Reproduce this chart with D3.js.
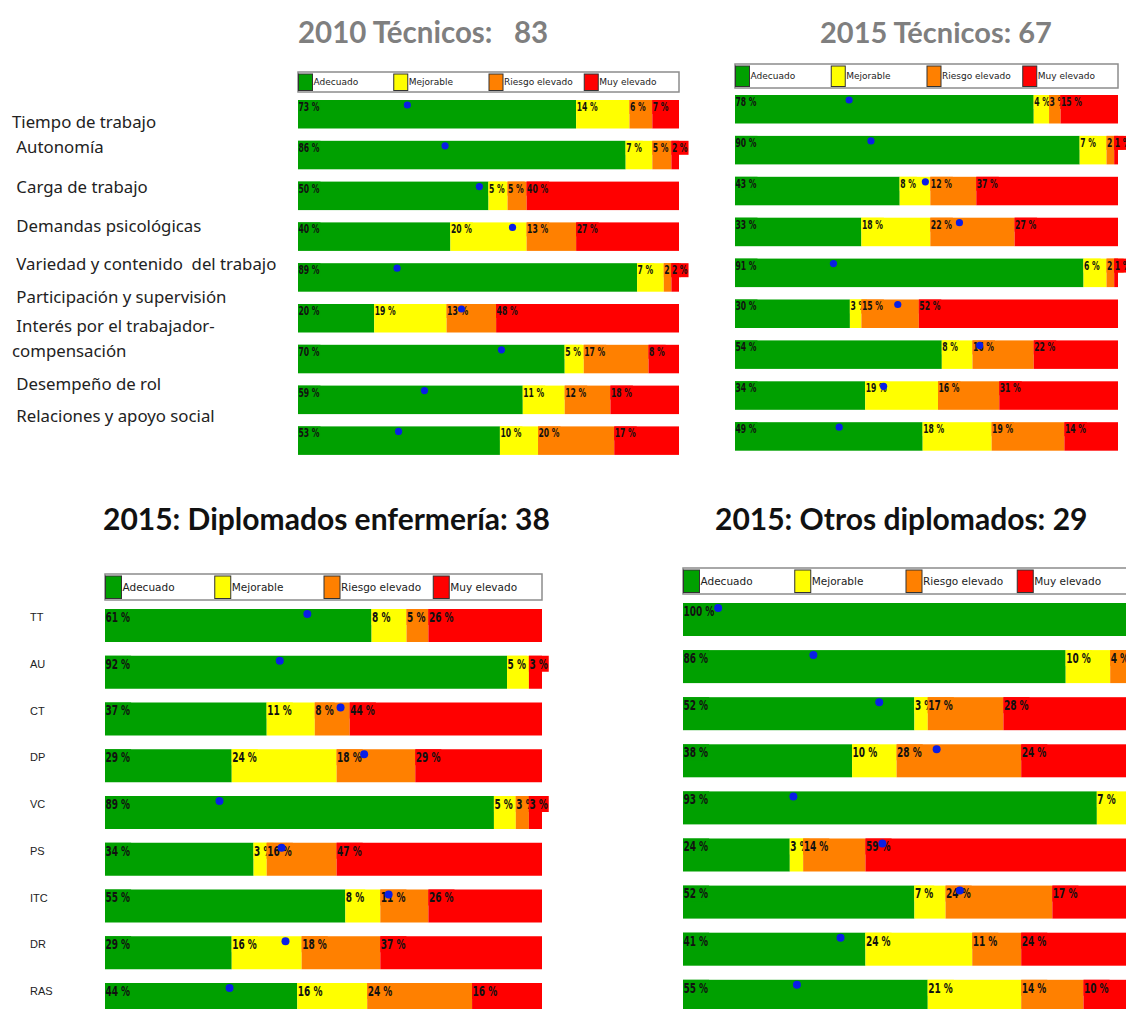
<!DOCTYPE html>
<html>
<head>
<meta charset="utf-8">
<script src="https://cdn.jsdelivr.net/npm/d3@7"></script>
<style>
  body { margin: 0; background: #fff; }
  svg text { white-space: pre; }
</style>
</head>
<body>
<div id="chart"></div>
<script>
// risk levels (legend) and their colours
var levels = ["Adecuado", "Mejorable", "Riesgo elevado", "Muy elevado"];
var levelColors = ["#00a000", "#ffff00", "#ff8000", "#ff0000"];

// dimensions
var dimensionNames = [
  ["Tiempo de trabajo"], [" Autonomía"], [" Carga de trabajo"], [" Demandas psicológicas"],
  [" Variedad y contenido  del trabajo"], [" Participación y supervisión"],
  [" Interés por el trabajador-", "compensación"], [" Desempeño de rol"], [" Relaciones y apoyo social"]
];
var dimensionCodes = ["TT", "AU", "CT", "DP", "VC", "PS", "ITC", "DR", "RAS"];

var titles = ["2010 Técnicos:   83", "2015 Técnicos: 67", "2015: Diplomados enfermería: 38", "2015: Otros diplomados: 29"];

// % per level, one row per dimension
var tec2010 = [[73,14,6,7],[86,7,5,2],[50,5,5,40],[40,20,13,27],[89,7,2,2],[20,19,13,48],[70,5,17,8],[59,11,12,18],[53,10,20,17]];
var tec2015 = [[78,4,3,15],[90,7,2,1],[43,8,12,37],[33,18,22,27],[91,6,2,1],[30,3,15,52],[54,8,16,22],[34,19,16,31],[49,18,19,14]];
var enf2015 = [[61,8,5,26],[92,5,0,3],[37,11,8,44],[29,24,18,29],[89,5,3,3],[34,3,16,47],[55,8,11,26],[29,16,18,37],[44,16,24,16]];
var otros2015 = [[100,0,0,0],[86,10,4,0],[52,3,17,28],[38,10,28,24],[93,7,0,0],[24,3,14,59],[52,7,24,17],[41,24,11,24],[55,21,14,10]];

// mean score markers (blue dots), on the 0-100 bar scale
var tec2010Score = [28.7,38.6,47.6,56.3,26,42.9,53.4,33.2,26.4];
var tec2015Score = [29.8,35.5,49.7,58.6,25.7,42.5,63.9,38.8,27.2];
var enf2015Score = [46.3,40.0,53.9,59.3,26.2,40.4,64.9,41.3,28.5];
var otros2015Score = [7.9,29.3,44.1,57.0,24.8,44.8,62.2,35.4,25.6];

var W = 1126, H = 1009;
var squeeze = 0.74; // % labels are a narrow bitmap-like font

// layout of the four panels
var panels = [
  {title: titles[0], tx: 298, ty: 43, tcolor: "#7f7f7f", tfs: 29.5, data: tec2010, score: tec2010Score,
   x: 298, w: 381, top: 100, pitch: 40.8, barH: 28.5, legY: 72, legH: 20, fs: 11.5, legFs: 9, swW: 14},
  {title: titles[1], tx: 820, ty: 43, tcolor: "#7f7f7f", tfs: 29, data: tec2015, score: tec2015Score,
   x: 735, w: 383, top: 95, pitch: 40.9, barH: 28.5, legY: 64, legH: 24, fs: 11.5, legFs: 9, swW: 14},
  {title: titles[2], tx: 103, ty: 530, tcolor: "#111", tfs: 30, data: enf2015, score: enf2015Score,
   x: 105, w: 437, top: 609, pitch: 46.75, barH: 33, legY: 574, legH: 26, fs: 13.5, legFs: 10.5, swW: 16},
  {title: titles[3], tx: 715, ty: 530, tcolor: "#111", tfs: 30, data: otros2015, score: otros2015Score,
   x: 683, w: 445, top: 603, pitch: 47.1, barH: 33, legY: 568, legH: 26, fs: 13.5, legFs: 10.5, swW: 16}
];

var svg = d3.select("#chart").append("svg")
    .attr("width", W)
    .attr("height", H)
    .style("font-family", "Lato, sans-serif");

svg.append("rect").attr("width", W).attr("height", H).attr("fill", "#fff");

panels.forEach(function(p) {
  var x = d3.scaleLinear().domain([0, 100]).range([p.x, p.x + p.w]);
  var y = d3.scaleBand()
      .domain(dimensionCodes)
      .range([p.top, p.top + 8 * p.pitch + p.barH])
      .paddingInner((p.pitch - p.barH) / p.pitch)
      .paddingOuter(0);

  // title
  svg.append("text")
      .attr("x", p.tx)
      .attr("y", p.ty)
      .attr("font-size", p.tfs)
      .attr("font-weight", "bold")
      .attr("fill", p.tcolor)
      .text(p.title);

  // legend
  var leg = svg.append("g").attr("class", "legend");
  leg.append("rect")
      .attr("x", p.x)
      .attr("y", p.legY)
      .attr("width", p.w)
      .attr("height", p.legH)
      .attr("fill", "#fff")
      .attr("stroke", "#8c8c8c")
      .attr("stroke-width", 1.5);
  var item = leg.selectAll("g.item").data(levels).enter()
      .append("g")
      .attr("class", "item")
      .attr("transform", function(d, i) { return "translate(" + (p.x + i * p.w / 4) + "," + p.legY + ")"; });
  item.append("rect")
      .attr("x", 0.5)
      .attr("y", 2)
      .attr("width", p.swW)
      .attr("height", p.legH - 3.5)
      .attr("fill", function(d, i) { return levelColors[i]; })
      .attr("stroke", "#333")
      .attr("stroke-width", 1);
  item.append("text")
      .attr("x", p.swW + 1.5)
      .attr("y", p.legH / 2 + p.legFs * 0.35)
      .attr("font-family", "'DejaVu Sans', sans-serif")
      .attr("font-size", p.legFs)
      .attr("fill", "#222")
      .text(function(d) { return d; });

  // bars
  p.data.forEach(function(row, r) {
    var g = svg.append("g").attr("class", "bar");
    var start = 0;
    var top = y(dimensionCodes[r]);
    row.forEach(function(v, k) {
      if (v <= 0) return;
      var x0 = x(start), seg = x(start + v) - x(start);
      g.append("rect")
          .attr("x", x0)
          .attr("y", top)
          .attr("width", seg)
          .attr("height", y.bandwidth())
          .attr("fill", levelColors[k]);
      var bg = g.append("rect");
      var t = g.append("text")
          .attr("transform", "translate(" + (x0 + 0.5) + "," + (top + p.fs * 0.95) + ") scale(" + squeeze + ",1)")
          .attr("font-family", "'DejaVu Sans Condensed', 'DejaVu Sans', sans-serif")
          .attr("font-weight", "bold")
          .attr("font-size", p.fs)
          .attr("fill", "#111")
          .text(v + " %");
      bg.attr("x", x0)
          .attr("y", top)
          .attr("width", t.node().getComputedTextLength() * squeeze + 1.5)
          .attr("height", p.fs + 2.5)
          .attr("fill", levelColors[k]);
      start += v;
    });
  });

  // mean markers
  svg.append("g").selectAll("circle")
      .data(p.score).enter()
      .append("circle")
      .attr("cx", function(d) { return x(d); })
      .attr("cy", function(d, i) { return y(dimensionCodes[i]) + 5; })
      .attr("r", p.barH > 30 ? 4 : 3.6)
      .attr("fill", "#0a1ee6");
});

// left labels, top: full names
var labelBaselines = [128, 153, 193, 232, 270, 303, 332, 390, 422];
var nameG = svg.append("g")
    .attr("font-family", "'Noto Sans', sans-serif")
    .attr("font-size", 16.8)
    .attr("fill", "#222");
dimensionNames.forEach(function(lines, i) {
  lines.forEach(function(line, j) {
    nameG.append("text")
        .attr("x", 12)
        .attr("y", labelBaselines[i] + j * 25)
        .text(line);
  });
});

// left labels, bottom: codes
var yCodes = d3.scaleBand()
    .domain(dimensionCodes)
    .range([609, 609 + 8 * 46.75 + 33])
    .paddingInner((46.75 - 33) / 46.75);
svg.append("g").selectAll("text")
    .data(dimensionCodes).enter()
    .append("text")
    .attr("x", 30)
    .attr("y", function(d) { return yCodes(d) + 12; })
    .attr("font-family", "'Liberation Sans', Arial, sans-serif")
    .attr("font-size", 11)
    .attr("fill", "#222")
    .text(function(d) { return d; });
</script>
</body>
</html>
